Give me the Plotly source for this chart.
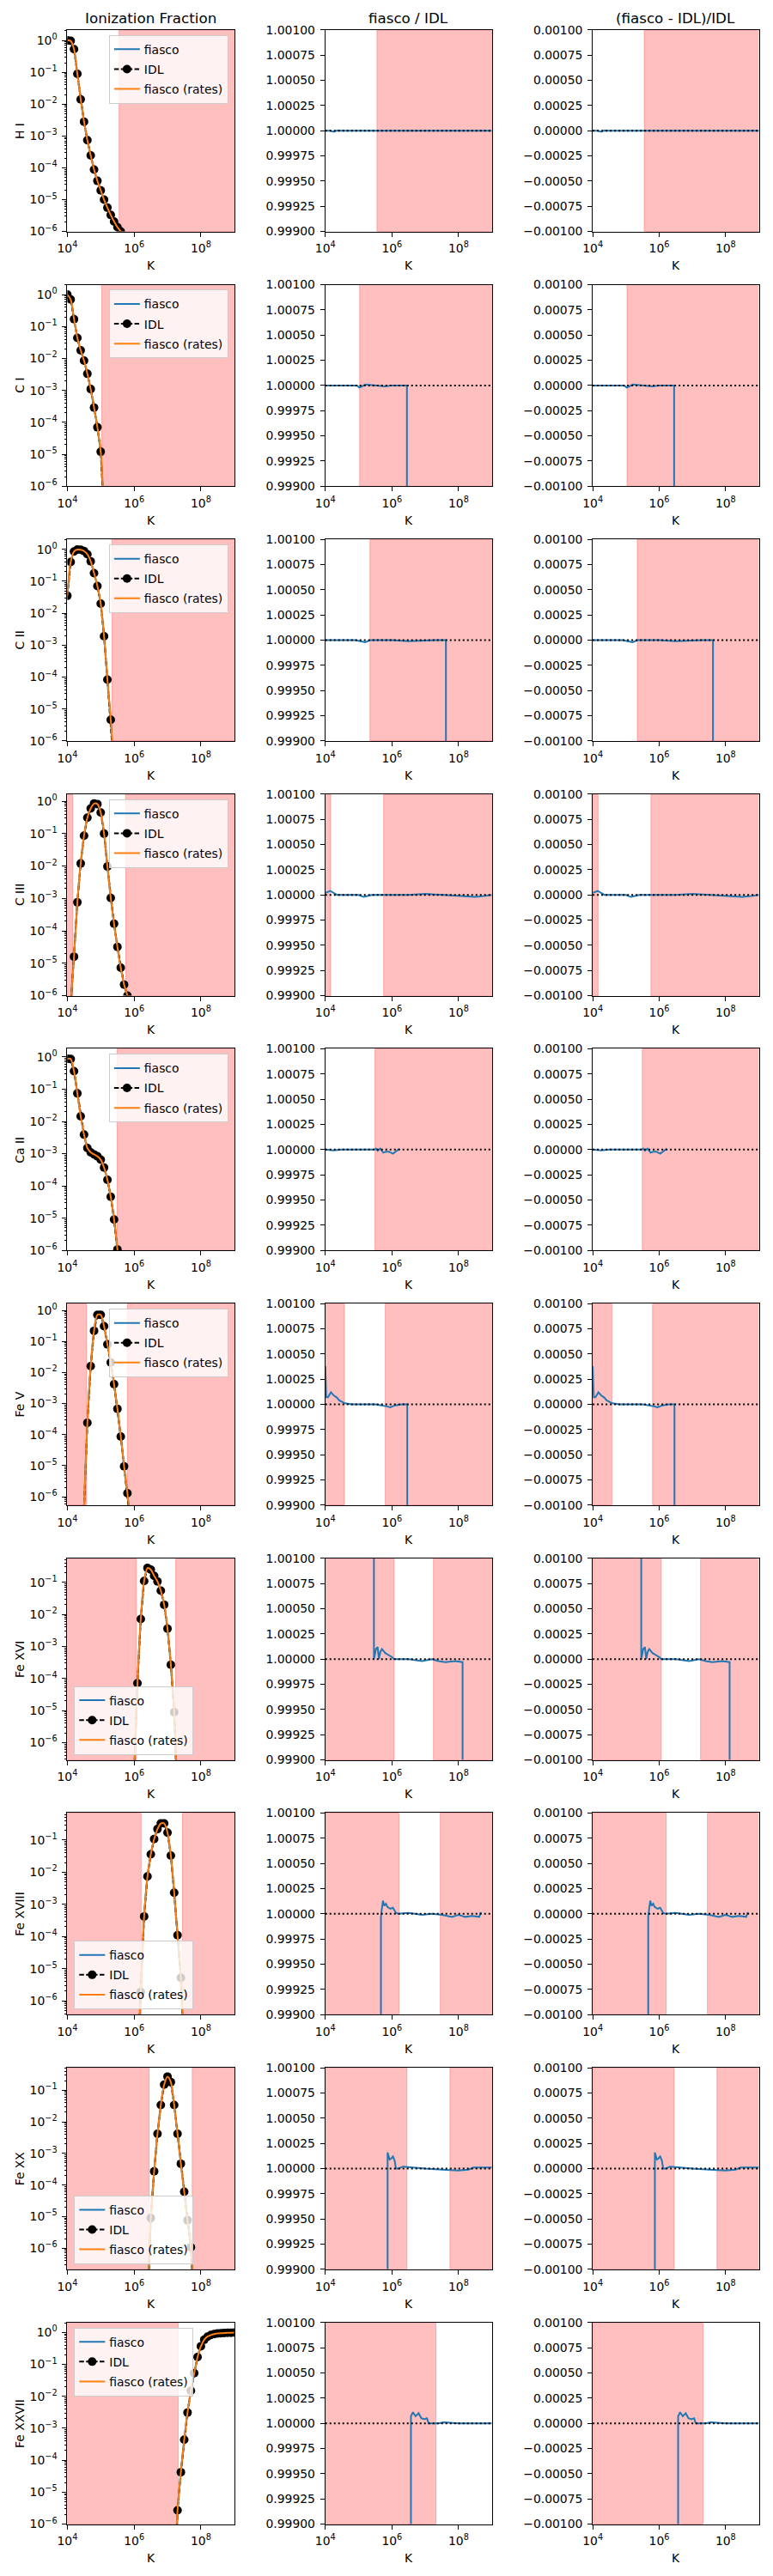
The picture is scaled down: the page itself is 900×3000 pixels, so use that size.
import math
import plotly.graph_objects as go

# ---------------- data ----------------
IONS = ["H I", "C I", "C II", "C III", "Ca II", "Fe V", "Fe XVI", "Fe XVIII", "Fe XX", "Fe XXVII"]
COL_TITLES = ["Ionization Fraction", "fiasco / IDL", "(fiasco - IDL)/IDL"]

# ionization fraction (IDL points; fiasco curves follow them)
H1_LOGT = [4.0, 4.1, 4.2, 4.3, 4.4, 4.5, 4.6, 4.7, 4.8, 4.9, 5.0, 5.1, 5.2, 5.3, 5.4, 5.5, 5.6, 5.7]
H1_FRAC = [1.0, 0.97, 0.53, 0.089, 0.0141, 2.8e-3, 7.4e-4, 2.45e-4, 8.8e-5, 3.9e-5, 1.96e-5, 1.0e-5,
           5.6e-6, 3.3e-6, 2.05e-6, 1.37e-6, 1.0e-6, 7.0e-7]
C1_LOGT = [4.0, 4.1, 4.2, 4.3, 4.4, 4.5, 4.6, 4.7, 4.8, 4.9, 5.0, 5.1]
C1_FRAC = [1.0, 0.70, 0.17, 0.044, 0.018, 8.5e-3, 3.3e-3, 1.1e-3, 2.9e-4, 7.0e-5, 1.2e-5, 1.0e-7]
C2_LOGT = [4.0, 4.1, 4.2, 4.3, 4.4, 4.5, 4.6, 4.7, 4.8, 4.9, 5.0, 5.1, 5.2, 5.3, 5.4]
C2_FRAC = [0.035, 0.40, 0.85, 0.98, 0.97, 0.88, 0.70, 0.42, 0.18, 0.071, 0.020, 1.9e-3, 8.3e-5, 4.6e-6, 1.0e-7]
C3_LOGT = [4.1, 4.2, 4.3, 4.4, 4.5, 4.6, 4.7, 4.8, 4.9, 5.0, 5.1, 5.2, 5.3, 5.4, 5.5, 5.6, 5.7, 5.8, 5.9]
C3_FRAC = [5.0e-7, 1.6e-5, 7.6e-4, 0.012, 0.087, 0.31, 0.60, 0.85, 0.82, 0.45, 0.10, 9.7e-3, 1.04e-3,
           1.66e-4, 3.2e-5, 7.3e-6, 2.2e-6, 1.0e-6, 3.0e-7]
CA2_LOGT = [4.0, 4.1, 4.2, 4.3, 4.4, 4.5, 4.6, 4.7, 4.8, 4.9, 5.0, 5.1, 5.2, 5.3, 5.4, 5.5, 5.6]
CA2_FRAC = [0.88, 0.86, 0.36, 0.074, 0.0145, 3.9e-3, 1.5e-3, 1.1e-3, 9.5e-4, 8.3e-4, 6.5e-4, 3.7e-4,
            1.55e-4, 4.6e-5, 9.1e-6, 1.07e-6, 1.0e-7]
FE5_LOGT = [4.5, 4.6, 4.7, 4.8, 4.9, 5.0, 5.1, 5.2, 5.3, 5.4, 5.5, 5.6, 5.7, 5.8, 5.9]
FE5_FRAC = [4.0e-7, 2.4e-4, 0.016, 0.22, 0.72, 0.72, 0.31, 0.081, 0.021, 4.2e-3, 6.8e-4, 8.7e-5,
            9.5e-6, 1.3e-6, 1.0e-7]
FE16_LOGT = [6.0, 6.1, 6.2, 6.3, 6.4, 6.5, 6.6, 6.7, 6.8, 6.9, 7.0, 7.1, 7.2, 7.3]
FE16_FRAC = [1.0e-7, 7.1e-5, 7.2e-3, 0.11, 0.28, 0.25, 0.16, 0.107, 0.055, 0.020, 3.6e-3, 2.7e-4,
             8.9e-6, 1.0e-8]
FE18_LOGT = [6.1, 6.2, 6.3, 6.4, 6.5, 6.6, 6.7, 6.8, 6.9, 7.0, 7.1, 7.2, 7.3, 7.4, 7.5]
FE18_FRAC = [1.0e-8, 1.9e-6, 4.2e-4, 7.4e-3, 0.036, 0.107, 0.22, 0.33, 0.33, 0.17, 0.033, 2.3e-3,
             1.1e-4, 5.2e-6, 1.0e-8]
FE20_LOGT = [6.4, 6.5, 6.6, 6.7, 6.8, 6.9, 7.0, 7.1, 7.2, 7.3, 7.4, 7.5, 7.6, 7.7, 7.8]
FE20_FRAC = [1.0e-8, 9.0e-6, 2.7e-4, 4.2e-3, 0.034, 0.15, 0.27, 0.18, 0.034, 4.2e-3, 4.7e-4, 6.1e-5,
             7.7e-6, 1.07e-6, 1.0e-8]
FE27_LOGT = [7.2, 7.3, 7.4, 7.5, 7.6, 7.7, 7.8, 7.9, 8.0, 8.1, 8.2, 8.3, 8.4, 8.5, 8.6, 8.7, 8.8, 8.9, 9.0]
FE27_FRAC = [1.0e-8, 2.7e-6, 4.2e-5, 4.4e-4, 3.1e-3, 0.015, 0.053, 0.17, 0.37, 0.59, 0.74, 0.83, 0.89,
             0.93, 0.95, 0.965, 0.975, 0.98, 0.985]

# fiasco / IDL ratio
H1_R_LOGT = [4.0, 4.15, 4.25, 4.35, 4.5, 5.0, 5.5, 6.0, 6.5, 7.0, 7.5, 8.0, 8.5, 9.0]
H1_RATIO = [1.0, 1.0, 0.999989, 1.000002, 1.0, 1.0, 1.0, 1.0, 1.0, 1.0, 1.0, 1.0, 1.0, 1.0]
C1_R_LOGT = [4.0, 4.5, 4.95, 5.02, 5.1, 5.2, 5.5, 5.8, 6.0, 6.2, 6.45, 6.46]
C1_RATIO = [1.0, 1.0, 1.0, 0.99998, 0.99999, 1.00001, 1.0, 0.99999, 1.0, 1.0, 1.0, 0.0]
C2_R_LOGT = [4.0, 4.5, 4.9, 5.05, 5.2, 5.35, 5.6, 6.0, 6.5, 7.0, 7.3, 7.62, 7.63]
C2_RATIO = [1.0, 1.0, 1.0, 0.99999, 0.99998, 1.0, 1.0, 1.0, 0.99999, 1.0, 1.0, 1.0, 0.0]
C3_R_LOGT = [4.0, 4.08, 4.15, 4.25, 4.35, 4.6, 5.0, 5.15, 5.25, 5.4, 6.0, 6.5, 7.0, 7.5, 8.0, 8.5, 8.8, 9.0]
C3_RATIO = [1.00002, 1.00003, 1.00004, 1.00002, 1.0, 1.0, 1.0, 0.99998, 0.99999, 1.0, 1.0, 1.0,
            1.00001, 1.0, 0.99999, 0.99998, 0.99999, 1.0]
CA2_R_LOGT = [4.0, 4.25, 4.5, 5.0, 5.48, 5.52, 5.57, 5.65, 5.74, 5.82, 5.91, 6.03, 6.12, 6.23]
CA2_RATIO = [1.0, 0.999992, 1.0, 1.0, 1.0, 1.00001, 0.99999, 1.00001, 0.99997, 0.99998, 0.99998,
             0.99996, 0.99998, 1.00001]
FE5_R_LOGT = [4.0, 4.03, 4.08, 4.17, 4.25, 4.34, 4.42, 4.59, 4.8, 5.0, 5.5, 5.85, 5.95, 6.1, 6.3, 6.46, 6.47]
FE5_RATIO = [1.00038, 1.00007, 1.00007, 1.00012, 1.00009, 1.00007, 1.00004, 1.00001, 1.0, 1.0, 1.0,
             0.99998, 0.99997, 0.99999, 1.0, 1.0, 0.0]
FE16_R_LOGT = [5.44, 5.46, 5.52, 5.57, 5.61, 5.65, 5.7, 5.8, 5.9, 6.0, 6.06, 6.5, 6.9, 7.2, 7.4, 7.6,
               7.9, 8.12, 8.13]
FE16_RATIO = [1.5, 1.0, 1.0001, 1.00012, 1.0, 1.00007, 1.0001, 1.00006, 1.00004, 1.00002, 1.0, 1.0,
              0.99998, 1.0, 0.99998, 0.99997, 0.99998, 0.99997, 0.0]
FE18_R_LOGT = [5.66, 5.67, 5.69, 5.73, 5.77, 5.82, 5.86, 5.95, 6.03, 6.12, 6.2, 6.5, 6.9, 7.2, 7.5,
               7.8, 8.0, 8.2, 8.4, 8.62, 8.66, 8.69]
FE18_RATIO = [0.0, 0.99997, 1.00003, 1.00013, 1.00008, 1.0001, 1.00007, 1.00005, 1.00006, 1.00001,
              1.0, 1.00001, 0.99999, 1.0, 0.99999, 0.99997, 0.99999, 0.99997, 0.99998, 0.99997,
              1.00001, 1.00001]
FE20_R_LOGT = [5.86, 5.87, 5.93, 5.98, 6.03, 6.08, 6.12, 6.2, 6.33, 6.6, 7.0, 7.5, 8.0, 8.3, 8.45, 9.0]
FE20_RATIO = [0.0, 1.00016, 1.00009, 1.0001, 1.00012, 1.00008, 1.0, 1.0, 1.00002, 1.00001, 1.0,
              0.99999, 0.99998, 0.99999, 1.00001, 1.00001]
FE27_R_LOGT = [6.56, 6.57, 6.63, 6.71, 6.8, 6.88, 6.97, 7.05, 7.1, 7.4, 7.55, 8.0, 9.0]
FE27_RATIO = [0.0, 1.00007, 1.00011, 1.00007, 1.0001, 1.00005, 1.00004, 1.00005, 1.0, 1.0, 1.00001,
              1.0, 1.0]

# shaded temperature ranges (log10 T)
H1_SHADE = [(5.55, 9.0)]
C1_SHADE = [(5.03, 9.0)]
C2_SHADE = [(5.34, 9.0)]
C3_SHADE = [(4.0, 4.16), (5.75, 9.0)]
CA2_SHADE = [(5.49, 9.0)]
FE5_SHADE = [(4.0, 4.575), (5.80, 9.0)]
FE16_SHADE = [(4.0, 6.065), (7.245, 9.0)]
FE18_SHADE = [(4.0, 6.21), (7.45, 9.0)]
FE20_SHADE = [(4.0, 6.45), (7.74, 9.0)]
FE27_SHADE = [(4.0, 7.32)]

# log10 of the y-limits of the first column
FRAC_YLIM = [(-6, 0.33), (-6, 0.31), (-6, 0.31), (-6, 0.22), (-6, 0.25), (-6.27, 0.22),
             (-6.54, -0.25), (-6.43, -0.16), (-6.67, -0.29), (-6, 0.31)]
LEGEND_LOC = ["ur", "ur", "ur", "ur", "ur", "ur", "ll", "ll", "ll", "ul"]

X_TICKS = [1e4, 1e6, 1e8]
X_TICKTEXT = ["10<sup>4</sup>", "10<sup>6</sup>", "10<sup>8</sup>"]
RATIO_TICKS = [0.999, 0.99925, 0.9995, 0.99975, 1.0, 1.00025, 1.0005, 1.00075, 1.001]
DIFF_TICKS = [-0.001, -0.00075, -0.0005, -0.00025, 0.0, 0.00025, 0.0005, 0.00075, 0.001]

FRAC_LOGT = [H1_LOGT, C1_LOGT, C2_LOGT, C3_LOGT, CA2_LOGT, FE5_LOGT, FE16_LOGT, FE18_LOGT, FE20_LOGT, FE27_LOGT]
FRAC = [H1_FRAC, C1_FRAC, C2_FRAC, C3_FRAC, CA2_FRAC, FE5_FRAC, FE16_FRAC, FE18_FRAC, FE20_FRAC, FE27_FRAC]
R_LOGT = [H1_R_LOGT, C1_R_LOGT, C2_R_LOGT, C3_R_LOGT, CA2_R_LOGT, FE5_R_LOGT, FE16_R_LOGT, FE18_R_LOGT,
          FE20_R_LOGT, FE27_R_LOGT]
RATIO = [H1_RATIO, C1_RATIO, C2_RATIO, C3_RATIO, CA2_RATIO, FE5_RATIO, FE16_RATIO, FE18_RATIO, FE20_RATIO,
         FE27_RATIO]
SHADES = [H1_SHADE, C1_SHADE, C2_SHADE, C3_SHADE, CA2_SHADE, FE5_SHADE, FE16_SHADE, FE18_SHADE,
          FE20_SHADE, FE27_SHADE]

# ---------------- layout geometry (pixels) ----------------
W, H = 900, 3000
FONT = "DejaVu Sans"
BLUE, ORANGE = "#1f77b4", "#ff7f0e"
ROW_TOP0, ROW_PITCH, PANEL_H = 27.0, 298.25, 236.0
COL_X = [(67.3, 264.3), (371.7, 568.3), (687.3, 883.3)]
TICK_FS = 13.9


def px_x(p):
    return p / W


def px_y(p):
    return 1 - p / H


def sup_label(k):
    s = str(k).replace("-", "\u2212")
    return f"10<sup>{s}</sup>"


def fmt5(v):
    return f"{v:.5f}".replace("-", "\u2212")


fig = go.Figure()
layout = dict(
    width=W, height=H, margin=dict(l=0, r=0, t=0, b=0),
    paper_bgcolor="white", plot_bgcolor="white",
    font=dict(family=FONT, size=TICK_FS, color="black"),
    showlegend=True,
)
shapes, annotations = [], []

common_axis = dict(showgrid=False, zeroline=False, showline=True, linecolor="black", linewidth=1,
                   mirror=True, ticks="outside", ticklen=5, tickwidth=1, tickcolor="black",
                   tickfont=dict(family=FONT, size=TICK_FS, color="black"))

for r in range(10):
    top = ROW_TOP0 + r * ROW_PITCH
    bot = top + PANEL_H
    lname = "legend" if r == 0 else f"legend{r + 1}"
    T = [10 ** v for v in FRAC_LOGT[r]]
    TR = [10 ** v for v in R_LOGT[r]]
    for c in range(3):
        n = r * 3 + c + 1
        xa = "xaxis" if n == 1 else f"xaxis{n}"
        ya = "yaxis" if n == 1 else f"yaxis{n}"
        xr = "x" if n == 1 else f"x{n}"
        yr = "y" if n == 1 else f"y{n}"
        x0, x1 = COL_X[c]
        layout[xa] = dict(common_axis, type="log", range=[4, 9], autorange=False,
                          domain=[px_x(x0), px_x(x1)], anchor=yr,
                          tickvals=X_TICKS, ticktext=X_TICKTEXT, ticklabelstandoff=2)
        if c == 0:
            lo, hi = FRAC_YLIM[r]
            kv = list(range(math.ceil(lo), math.floor(hi) + 1))
            minor_vals = [m * 10.0 ** k for k in range(math.floor(lo), math.ceil(hi) + 1) for m in range(2, 10)
                          if lo <= math.log10(m * 10.0 ** k) <= hi]
            layout[ya] = dict(common_axis, type="log", range=[lo, hi], autorange=False,
                              domain=[px_y(bot), px_y(top)],
                              anchor=xr, tickvals=[10.0 ** k for k in kv], ticktext=[sup_label(k) for k in kv],
                              ticklabelstandoff=3,
                              minor=dict(tickvals=minor_vals, ticks="outside", ticklen=2.8, tickwidth=0.7,
                                         tickcolor="black", showgrid=False))
        elif c == 1:
            layout[ya] = dict(common_axis, range=[0.999, 1.001], autorange=False,
                              domain=[px_y(bot), px_y(top)], anchor=xr,
                              tickvals=RATIO_TICKS, ticktext=[fmt5(v) for v in RATIO_TICKS], ticklabelstandoff=3)
        else:
            layout[ya] = dict(common_axis, range=[-0.001, 0.001], autorange=False,
                              domain=[px_y(bot), px_y(top)], anchor=xr,
                              tickvals=DIFF_TICKS, ticktext=[fmt5(v) for v in DIFF_TICKS], ticklabelstandoff=3)

        # shaded spans
        for (a, b) in SHADES[r]:
            shapes.append(dict(type="rect", xref=xr, yref=f"{yr} domain", x0=10 ** a, x1=10 ** b, y0=0, y1=1,
                               fillcolor="rgba(255,0,0,0.25)", line=dict(color="rgba(255,0,0,0.25)", width=1),
                               layer="below"))

        if c == 0:
            fig.add_trace(go.Scatter(x=T, y=FRAC[r], mode="lines", name="fiasco", legendgroup=f"a{r}",
                                     line=dict(color=BLUE, width=2, shape="spline", smoothing=0.8),
                                     xaxis=xr, yaxis=yr, legend=lname))
            fig.add_trace(go.Scatter(x=T, y=FRAC[r], mode="lines+markers", name="IDL", legendgroup=f"b{r}",
                                     line=dict(color="black", width=2, dash="5.5px,2.4px"),
                                     marker=dict(color="black", size=10), xaxis=xr, yaxis=yr, legend=lname))
            fig.add_trace(go.Scatter(x=T, y=FRAC[r], mode="lines", name="fiasco (rates)", legendgroup=f"c{r}",
                                     line=dict(color=ORANGE, width=2, shape="spline", smoothing=0.8),
                                     xaxis=xr, yaxis=yr, legend=lname))
        else:
            vals = RATIO[r] if c == 1 else [v - 1.0 for v in RATIO[r]]
            fig.add_trace(go.Scatter(x=TR, y=vals, mode="lines", line=dict(color=BLUE, width=2),
                                     xaxis=xr, yaxis=yr, showlegend=False))
            ref = 1.0 if c == 1 else 0.0
            shapes.append(dict(type="line", xref=f"{xr} domain", yref=yr, x0=0, x1=1, y0=ref, y1=ref,
                               line=dict(color="black", width=2, dash="2px,3px"), layer="above"))

        # x label
        annotations.append(dict(text="K", xref="paper", yref="paper", x=px_x((x0 + x1) / 2), y=px_y(bot + 40),
                                showarrow=False, xanchor="center", yanchor="middle",
                                font=dict(family=FONT, size=TICK_FS, color="black")))
        if r == 0:
            annotations.append(dict(text=COL_TITLES[c], xref="paper", yref="paper", x=px_x((x0 + x1) / 2),
                                    y=px_y(13), showarrow=False, xanchor="center", yanchor="middle",
                                    font=dict(family=FONT, size=16.7, color="black")))
    # y label
    annotations.append(dict(text=IONS[r], xref="paper", yref="paper", x=px_x(11), y=px_y(top + PANEL_H / 2),
                            showarrow=False, textangle=-90, xanchor="center", yanchor="middle",
                            font=dict(family=FONT, size=TICK_FS, color="black")))
    # legend
    x0, x1 = COL_X[0]
    loc = LEGEND_LOC[r]
    leg = dict(bgcolor="rgba(255,255,255,0.8)", bordercolor="#cccccc", borderwidth=1,
               font=dict(family=FONT, size=TICK_FS, color="black"), xref="paper", yref="paper",
               tracegroupgap=2, itemwidth=30)
    if loc == "ur":
        leg.update(x=px_x(x1 - 7), xanchor="right", y=px_y(top + 6), yanchor="top")
    elif loc == "ll":
        leg.update(x=px_x(x0 + 8), xanchor="left", y=px_y(bot - 6), yanchor="bottom")
    else:
        leg.update(x=px_x(x0 + 8), xanchor="left", y=px_y(top + 6), yanchor="top")
    layout[lname] = leg

layout["shapes"] = shapes
layout["annotations"] = annotations
fig.update_layout(**layout)
fig.write_html("out.html")
